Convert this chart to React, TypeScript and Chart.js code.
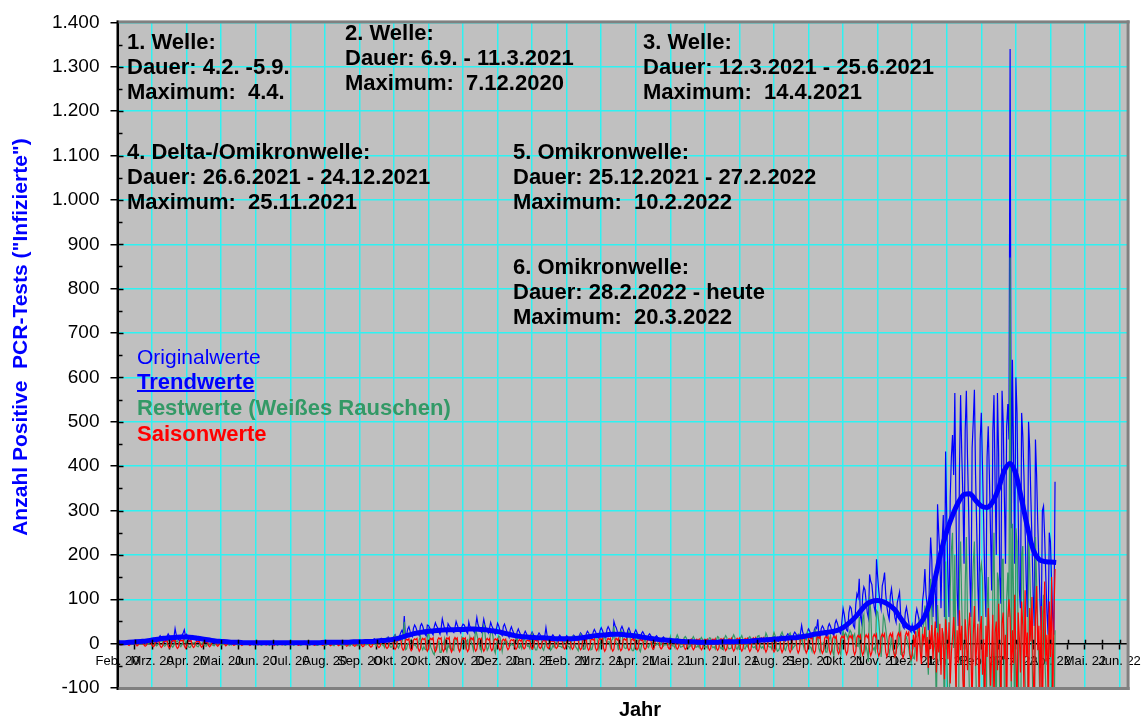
import { useEffect, useRef } from "react";
import { Chart, registerables } from "chart.js";

Chart.register(...registerables);

const FONT = '"Liberation Sans", Arial, Helvetica, sans-serif';
const CYAN = "#2ef2f2";
const PLOT_BG = "#c0c0c0";
const BLUE = "#0000ff";
const GREEN = "#339966";
const RED = "#ff0000";

// x axis: days since 4.2.2020, one tick every 30 days
const TICK_DAYS = 30;
const X_MAX_DAY = 877;
const xTickLabels = [
  "Feb. 20", "Mrz. 20", "Apr. 20", "Mai. 20", "Jun. 20", "Jul. 20", "Aug. 20", "Sep. 20", "Okt. 20", "Okt. 20",
  "Nov. 20", "Dez. 20", "Jan. 21", "Feb. 21", "Mrz. 21", "Apr. 21", "Mai. 21", "Jun. 21", "Jul. 21", "Aug. 21",
  "Sep. 21", "Okt. 21", "Nov. 21", "Dez. 21", "Jan. 22", "Feb. 22", "Mrz. 22", "Apr. 22", "Mai. 22", "Jun. 22",
];
const Y_MIN = -100;
const Y_MAX = 1400;
const Y_STEP = 100;

// daily original values (day 0 = 4.2.2020)
const originalValues = [
  0,1,0,2,1,0,0, 1,3,2,1,0,0,1, 2,4,3,2,1,0,2, 3,5,6,4,2,1,3, 6,8,
  10,12,9,4,2,8,14, 18,13,10,5,3,9,16, 22,17,12,6,4,14,34, 20,15,9,6,12,19,24, 31,17,
  21,14,8,5,12,18,16, 13,9,4,3,10,14,12, 9,7,3,2,8,11,9, 7,5,2,1,6,8,7, 5,4,
  2,1,4,6,5,4,3, 1,1,3,5,4,3,2, 0,1,3,4,3,2,2, 0,1,2,4,3,2,1, 0,1,
  2,3,2,2,1,0,1, 2,4,3,2,1,0,1, 3,2,3,2,1,0,2, 3,4,2,1,1,0,2, 3,2,
  2,1,0,1,3,4,2, 3,1,0,2,3,5,2, 2,1,0,1,4,3,3, 2,1,0,2,4,5,3, 2,1,
  1,2,4,5,3,4,2, 1,2,5,6,4,3,2, 1,3,5,4,6,3,2, 2,3,6,5,4,3,1, 2,4,
  6,7,5,3,2,5,8, 9,6,4,2,4,9,11, 8,6,3,5,10,12,9, 7,4,6,12,15,11,8, 5,9,
  16,20,14,9,7,18,25, 30,22,62,12,20,33,38, 28,20,16,35,42,37,29, 22,18,40,45,39,30,21, 17,42,
  41,36,30,24,20,38,47, 40,35,27,21,35,56,44, 33,30,22,45,40,37,31, 28,25,36,50,42,35,29, 24,38,
  44,42,36,27,23,49,38, 36,31,29,25,40,59,43, 36,31,26,37,55,42,33, 29,24,35,48,40,34,26, 21,33,
  46,40,30,22,18,39,44, 36,28,20,14,31,38,30, 24,17,12,27,33,26,20, 14,10,22,28,23,16,11, 8,20,
  26,21,14,10,8,19,24, 20,15,9,7,17,36,18, 14,9,6,16,20,16,12, 8,6,15,19,15,11,7, 5,13,
  18,14,10,7,6,15,19, 17,13,9,7,18,24,21, 16,11,9,22,28,24,18, 13,11,26,32,27,20,15, 12,30,
  36,30,22,16,13,32,38, 33,25,18,15,50,41,36, 27,20,16,33,39,32,24, 18,14,30,35,28,20,15, 11,26,
  31,25,18,12,9,23,27, 22,16,11,8,19,22,18, 13,9,6,15,18,14,10, 7,5,12,15,12,8,5, 4,10,
  13,10,7,4,3,9,11, 9,6,4,2,7,9,7, 5,3,2,6,7,5,4, 2,1,5,6,4,3,2, 1,4,
  5,4,3,1,1,4,5, 4,3,2,1,4,6,4, 3,2,1,5,6,5,3, 2,1,5,7,5,4,2, 1,6,
  7,6,4,2,2,7,9, 8,6,3,2,8,10,9, 7,4,3,10,12,10,8, 5,3,11,14,12,9,6, 4,13,
  16,14,10,6,5,15,19, 17,13,8,6,18,22,19, 15,9,7,21,26,22,17, 11,9,24,41,25,19,13, 10,27,
  33,28,20,13,11,31,37, 34,55,19,14,34,40,35, 27,19,15,38,45,39,31, 22,18,45,53,46,36,26, 22,52,
  79,66,45,31,28,70,84, 80,60,40,35,88,112,104, 146,62,48,110,128,121,95, 70,58,156,140,133,104,82, 70,190,
  150,118,92,78,130,142,160, 112,84,66,55,108,124,98, 78,58,48,92,104,116,64, 50,38,34,70,82,66,48, 30,26,
  42,28,24,62,78,66,52, 44,40,96,120,168,110,84, 30,150,239,190,60,140,120, 35,314,250,200,80,230,290, 60,433,
  280,150,60,330,420,470,380, 565,300,120,40,390,560,430, 330,180,480,570,420,300,150, 60,440,500,572,380,260,130, 50,460,
  520,400,280,140,60,420,490, 380,250,120,480,560,350,200, 565,430,150,90,570,500,330, 180,490,540,460,1340,260,640, 420,180,
  600,520,300,120,80,520,470, 380,260,140,60,500,440,330, 230,110,40,460,380,270,180, 90,30,300,310,240,150,70, 20,250,
  230,140,60,20,365,
];

// trend values, one every TREND_STEP days
const TREND_STEP = 5;
const trendValues = [
  2,2,3,4,5,6,8,10,12,13,
  14,15,15,14,12,10,8,6,5,4,
  3,3,2,2,2,2,2,2,2,2,
  2,2,2,2,2,2,3,3,3,3,
  3,4,4,5,5,6,7,8,10,13,
  17,21,24,26,28,29,30,31,31,32,
  32,33,33,32,31,29,27,24,21,18,
  16,15,14,13,13,12,11,11,11,11,
  12,14,16,18,19,20,21,21,20,19,
  17,15,13,11,9,8,7,6,5,4,
  4,3,3,3,3,4,4,4,5,5,
  6,7,8,9,10,11,12,13,14,16,
  18,21,23,25,27,30,36,46,58,73,
  88,95,97,94,87,76,57,40,34,40,
  57,90,148,207,253,289,318,336,338,323,
  310,307,320,350,390,406,382,325,263,212,
  190,185,184,183,
];

// daily residuals (white noise)
const restValues = [
  0,-1,1,2,0,-1,-2, 0,1,3,1,-1,-2,0, 1,2,3,0,-2,-1,0, 1,2,4,2,-1,-2,0, 2,3,
  5,7,3,-3,-5,-2,1, 5,8,4,-4,-6,-3,2, 7,9,4,-5,-8,-4,12, 4,6,2,-4,-7,-2,5, 12,2,
  4,-3,-8,-9,-4,2,1, 3,-2,-6,-7,-3,1,0, 2,-2,-5,-6,-2,1,0, 1,-1,-4,-5,-1,1,0, 1,-1,
  -3,-3,-2,4,5,3,-1, -4,-2,-3,3,4,2,-1, -3,-2,-3,2,4,2,-1, -2,-2,-2,2,3,1,-1, -3,-2,
  -2,3,4,2,-2,-4,-2, -2,4,4,2,-2,-4,-2, -1,3,5,2,-2,-4,-1, -1,4,3,1,-3,-4,-1, -1,3,
  2,1,-2,-4,-2,-2,2, 4,2,-4,-3,-1,1,2, 2,1,-3,-4,-1,-2,2, 3,2,-4,-4,0,1,2, 3,1,
  -4,-4,-2,-1,3,5,2, -4,-5,-1,0,4,5,2, -4,-4,-1,-3,6,6,3, -5,-5,0,-3,5,6,2, -5,-4,
  -3,-3,5,6,3,-3,-3, 1,-3,4,5,4,1,-1, -2,-5,3,6,8,-1,-3, -4,-9,5,13,13,-2,-8, -8,-4,
  14,19,10,-6,-10,-3,-1, 4,16,49,-14,-12,0,0, 5,9,4,-3,-3,-5,-10, -2,9,17,-8,-14,-7,-13, -14,15,
  31,4,-8,-14,-21,-25,-8, -11,0,5,-20,-20,-3,-2, 11,-9,-18,-3,-9,-1,-13, -12,-15,9,11,4,-11,-17, -9,14,
  9,5,-9,6,9,-15,15, 5,-3,-15,4,36,20,9, 0,-10,-17,25,41,26,-3, -15,-10,2,30,30,16,-13, -21,0,
  7,17,15,1,-17,-1,5, 2,6,-1,-6,-5,0,-3, -4,4,6,17,-7,-10,-2, -11,1,13,6,2,-6,-5, -11,12,
  23,14,-7,-14,-14,-3,15, 17,9,-11,-15,-6,11,8, 11,4,-15,-12,-4,-8,3, 4,1,-6,-6,-7,-9,1, 4,10,
  1,-6,-7,-12,3,17,17, -2,-8,-12,-16,13,21,14, -6,-12,-12,2,17,21,14, -14,-13,0,2,19,15,2, -13,-1,
  8,-1,13,14,6,3,4, 4,-9,7,11,39,9,2, -2,-11,4,28,28,3,-9, -11,-10,19,28,16,-10,-16, -16,-5,
  22,21,10,-13,-18,-4,1, 3,10,3,-6,-9,-1,-2, 3,1,-3,-4,-2,1,-4, -4,3,-3,-6,-2,-3,-3, -3,3,
  15,-3,-5,-5,-10,13,20, 14,-3,-8,-7,-6,13,16, 12,-7,-10,-4,-6,11,16, 10,-8,-8,-4,-9,10,14, 9,-6,
  -8,-6,-10,7,13,12,-6, -9,-7,-12,8,16,14,-7, -11,-9,-13,12,18,14,-8, -12,-11,-10,14,20,14,-9, -13,-5,
  -10,13,18,10,-11,-12,-4, -7,13,16,11,-6,-9,-7, -10,12,17,18,-5,-10,-7, -11,11,24,18,-6,-8,-7, -12,15,
  25,18,-10,-17,-15,-9,21, 26,18,-11,-15,-6,-2,20, 24,13,-12,-8,-5,-2,17, 21,11,2,15,1,-10,12, 9,25,
  4,-6,-9,-17,8,25,32, 5,21,-11,-19,1,-1,2, -7,-19,-19,-2,10,18,1, -18,-27,11,15,-1,-10,-18, -25,13,
  30,12,24,20,11,21,30, 25,5,17,22,-6,-4,-6, 60,-30,9,55,65,-17,-5, -19,-41,106,72,-4,-14,-9, -18,75,
  71,49,16,-30,8,63,54, 33,13,-4,-24,-6,18,-13, -19,-29,-16,-9,-3,46,-24, -26,-20,-18,10,15,2,-10, -30,-43,
  -17,-32,-34,12,17,40,52, -5,-20,33,45,86,36,-17, -70,43,146,70,-6,4,-18, -147,87,29,-32,-19,4,17, -196,185,
  -20,-150,-240,120,210,250,-10, 200,-60,-150,-290,150,230,90, -20,-180,130,240,60,-30,-150, -300,100,180,230,-30,-150,-250, -330,160,
  180,150,-80,-250,-300,80,150, -40,-140,-260,140,250,-20,-180, 160,140,-150,-230,190,190,-110, -260,100,160,60,870,-130,270, 110,-250,
  260,230,20,-300,-350,200,220, 40,-80,-210,-300,260,170,80, -10,-170,-260,240,140,40,-50, -140,-250,60,110,-10,-100,-190, -300,70,
  40,-120,-200,-250,30,
];

// daily seasonal values
const seasonValues = [
  1,2,-1,-3,-2,1,2, 1,3,-2,-4,-2,2,3, 2,3,-2,-5,-3,2,3, 2,4,-3,-6,-4,2,4, 3,5,
  -4,-7,-5,3,5,4,6, -5,-9,-6,4,6,5,8, -6,-10,-7,5,7,6,9, -6,-11,-8,5,8,6,8, -5,-10,
  -7,4,7,5,7,-5,-9, -6,3,6,4,6,-4,-8, -5,3,5,3,5,-4,-7, -4,2,4,3,4,-3,-6, -3,2,
  3,2,3,-2,-5,-3,2, 3,2,3,-2,-4,-3,1, 2,2,3,-2,-4,-2,2, 2,1,2,-2,-4,-2,1, 2,2,
  2,-2,-3,-2,1,2,1, 2,-1,-3,-2,1,2,2, 2,-2,-4,-2,1,2,1, 2,-2,-3,-2,2,2,1, 2,-2,
  -3,-2,1,2,2,3,-2, -4,-3,2,2,1,2,-2, -3,-2,1,2,2,3,-2, -4,-3,2,3,2,2,-2, -4,-3,
  2,3,2,3,-3,-5,-3, 2,3,2,3,-3,-5,-3, 2,3,2,4,-3,-6,-4, 3,4,2,4,-4,-6,-4, 3,4,
  3,4,-4,-7,-5,3,5, 4,5,-5,-8,-6,3,6, 4,6,-6,-9,-6,4,6, 5,7,-7,-11,-8,5,7, 5,8,
  -8,-13,-9,6,9,7,10, -9,-15,-11,7,10,8,11, -10,-16,-12,8,11,9,12, -10,-17,-12,8,12,9,12, -10,-17,
  -12,8,12,9,13,-11,-18, -13,9,13,10,13,-11,-18, -13,9,13,10,14,-11,-19, -13,9,14,10,13,-11,-18, -12,9,
  13,10,13,-11,-18,-13,9, 13,9,13,-11,-17,-12,9, 12,9,12,-10,-17,-12,8, 12,8,11,-10,-16,-11,8, 11,8,
  11,-9,-15,-11,7,10,7, 10,-8,-14,-10,7,9,7, 9,-8,-13,-9,6,9,6, 9,-7,-12,-9,6,8,6, 8,-7,
  -12,-8,6,8,6,8,-7, -11,-8,5,8,6,8,-7, -11,-8,5,7,5,8,-7, -11,-8,6,8,6,8,-7, -12,-9,
  6,9,6,9,-8,-13,-9, 7,10,7,10,-9,-14,-10, 7,10,7,10,-9,-15,-11, 8,11,8,11,-10,-16,-11, 8,12,
  8,12,-10,-17,-12,8,12, 9,12,-11,-17,-12,9,12, 8,12,-10,-16,-12,8,11, 8,11,-10,-15,-11,8,11, 7,10,
  -9,-14,-10,7,10,7,10, -9,-13,-10,7,9,7,9, -8,-13,-9,6,9,6,9, -8,-12,-9,6,8,6,8, -8,-12,
  -9,6,8,6,9,-8,-13, -9,6,9,6,9,-8,-13, -10,7,9,7,10,-9,-14, -10,7,10,7,10,-9,-14, -10,7,
  10,7,10,-9,-15,-11,8, 10,7,11,-10,-15,-11,8, 11,8,11,-10,-16,-12,8, 11,8,12,-11,-17,-12,9, 12,8,
  12,-11,-17,-12,9,12,9, 12,-11,-18,-13,9,13,9, 13,-12,-18,-13,9,13,9, 13,-12,-19,-13,10,13,10, 13,-12,
  -19,-14,10,14,10,14,-12, -20,-14,10,14,10,14,-13, -20,-14,10,14,10,14,-13, -21,-15,11,15,11,15,-13, -21,-15,
  11,15,11,15,-14,-22,-16, 11,16,12,16,-14,-22,-16, 12,16,12,16,-14,-23,-16, 12,17,12,17,-15,-23,-17, 12,17,
  13,18,-15,-24,-17,13,18, 13,18,-16,-25,-18,14,19, 14,19,-16,-26,-18,14,20, 14,20,-17,-27,-19,15,21, 15,21,
  -18,-28,-20,15,22,16,22, -19,-29,-21,16,23,16,23, -20,-30,-22,17,24,17,24, -21,-32,-23,18,26,19,26, -23,-35,
  -25,20,-8,28,-40,12,35, -18,-46,22,5,38,-30,15, -55,30,-12,42,-35,8,50, -65,25,-20,45,-70,35,10, -80,55,
  22,-35,48,-90,-20,15,60, 5,-110,30,-45,75,-15,40, -80,-130,55,10,-60,35,70, -25,-140,20,85,-50,-5,45, -120,30,
  62,-70,10,-150,40,-30,80, 15,-95,-20,65,-140,25,50, -60,90,-10,-125,45,70, -35,20,-160,55,100,60,-85,30, -45,110,
  -20,-150,70,15,-65,95,40, -110,120,-30,25,-170,80,5, 105,-60,-140,60,130,-15,40, -100,85,-190,35,140,-40,20, -120,95,
  -30,150,-160,60,168,
];

const waveTexts = [
  ["1. Welle:", "Dauer: 4.2. -5.9.", "Maximum:  4.4."],
  ["2. Welle:", "Dauer: 6.9. - 11.3.2021", "Maximum:  7.12.2020"],
  ["3. Welle:", "Dauer: 12.3.2021 - 25.6.2021", "Maximum:  14.4.2021"],
  ["4. Delta-/Omikronwelle:", "Dauer: 26.6.2021 - 24.12.2021", "Maximum:  25.11.2021"],
  ["5. Omikronwelle:", "Dauer: 25.12.2021 - 27.2.2022", "Maximum:  10.2.2022"],
  ["6. Omikronwelle:", "Dauer: 28.2.2022 - heute", "Maximum:  20.3.2022"],
];
const waveTextPos = [
  [127, 43], [345, 34], [643, 43], [127, 153], [513, 153], [513, 268],
];
const legendItems = ["Originalwerte", "Trendwerte", "Restwerte (Weißes Rauschen)", "Saisonwerte"];
const yTitle = 'Anzahl Positive  PCR-Tests ("Infizierte")';
const xTitle = "Jahr";

function fmtThousands(v: number): string {
  const n = Math.round(v);
  const a = Math.abs(n);
  if (a >= 1000) {
    const s = String(Math.floor(a / 1000)) + "." + String(a % 1000).padStart(3, "0");
    return n < 0 ? "-" + s : s;
  }
  return String(n);
}

const backgroundPlugin = {
  id: "plotBackground",
  beforeDraw(chart: any) {
    const { ctx, chartArea: ca } = chart;
    ctx.save();
    ctx.fillStyle = PLOT_BG;
    ctx.fillRect(ca.left, ca.top, ca.right - ca.left, ca.bottom - ca.top);
    ctx.restore();
  },
};

const overlayPlugin = {
  id: "overlay",
  afterDraw(chart: any) {
    const { ctx, chartArea: ca, scales } = chart;
    const ys = scales.y;
    const xs = scales.x;
    ctx.save();

    // extra tick marks (inner halves / minor ticks)
    ctx.strokeStyle = "#000";
    ctx.lineWidth = 1.5;
    ctx.beginPath();
    for (let v = Y_MIN + 50; v < Y_MAX; v += 50) {
      const py = Math.round(ys.getPixelForValue(v)) + 0.5;
      const len = v % 100 === 0 ? 6 : 5;
      ctx.moveTo(ca.left, py);
      ctx.lineTo(ca.left + len, py);
    }
    const y0 = ys.getPixelForValue(0);
    for (let d = 0; d <= 870; d += 15) {
      const px = Math.round(xs.getPixelForValue(d)) + 0.5;
      ctx.moveTo(px, y0 - 4);
      ctx.lineTo(px, y0);
    }
    ctx.stroke();

    // frame
    ctx.fillStyle = "#808080";
    ctx.fillRect(ca.left, ca.top - 2, ca.right - ca.left + 2, 3);
    ctx.fillRect(ca.right - 1, ca.top - 2, 3, ca.bottom - ca.top + 4);
    ctx.fillRect(ca.left, ca.bottom - 1, ca.right - ca.left + 2, 3);
    ctx.fillStyle = "#000";
    ctx.fillRect(ca.left - 1, ca.top - 2, 2, ca.bottom - ca.top + 4);

    // wave annotations
    ctx.textBaseline = "middle";
    ctx.textAlign = "left";
    ctx.fillStyle = "#000";
    ctx.font = `bold 22px ${FONT}`;
    waveTexts.forEach((lines, i) => {
      const [tx, ty] = waveTextPos[i];
      lines.forEach((line, j) => ctx.fillText(line, tx, ty + j * 25));
    });

    // legend
    const lx = 137;
    ctx.font = `21px ${FONT}`;
    ctx.fillStyle = BLUE;
    ctx.fillText(legendItems[0], lx, 358);
    ctx.font = `bold 22px ${FONT}`;
    ctx.fillText(legendItems[1], lx, 383);
    const w = ctx.measureText(legendItems[1]).width;
    ctx.fillRect(lx, 390, w, 2);
    ctx.fillStyle = GREEN;
    ctx.fillText(legendItems[2], lx, 408.5);
    ctx.fillStyle = RED;
    ctx.fillText(legendItems[3], lx, 434.5);

    // y title
    ctx.save();
    ctx.translate(21, 337);
    ctx.rotate(-Math.PI / 2);
    ctx.textAlign = "center";
    ctx.font = `bold 21px ${FONT}`;
    ctx.fillStyle = BLUE;
    ctx.fillText(yTitle, 0, 0);
    ctx.restore();

    // x title
    ctx.textAlign = "center";
    ctx.font = `bold 20px ${FONT}`;
    ctx.fillStyle = "#000";
    ctx.fillText(xTitle, 640, 710);

    ctx.restore();
  },
};

export default function App() {
  const canvasRef = useRef<HTMLCanvasElement | null>(null);

  useEffect(() => {
    if (!canvasRef.current) return;
    Chart.defaults.font.family = FONT;

    const toPoints = (arr: number[]) => arr.map((v, i) => ({ x: i, y: v }));
    const trendPoints = trendValues.map((v, i) => ({ x: i * TREND_STEP, y: v }));

    const chart = new Chart(canvasRef.current, {
      type: "line",
      data: {
        datasets: [
          {
            label: "Trendwerte",
            data: trendPoints,
            borderColor: BLUE,
            borderWidth: 5,
            pointRadius: 0,
            cubicInterpolationMode: "monotone",
            order: 0,
          },
          {
            label: "Saisonwerte",
            data: toPoints(seasonValues),
            borderColor: RED,
            borderWidth: 1.2,
            pointRadius: 0,
            order: 1,
          },
          {
            label: "Restwerte",
            data: toPoints(restValues),
            borderColor: GREEN,
            borderWidth: 1.2,
            pointRadius: 0,
            order: 2,
          },
          {
            label: "Originalwerte",
            data: toPoints(originalValues),
            borderColor: BLUE,
            borderWidth: 1.2,
            pointRadius: 0,
            order: 3,
          },
        ] as any,
      },
      options: {
        animation: false,
        responsive: false,
        events: [],
        layout: { padding: { left: 0, top: 20, right: 16, bottom: 34 } },
        plugins: { legend: { display: false }, tooltip: { enabled: false } },
        scales: {
          x: {
            type: "linear",
            min: 0,
            max: X_MAX_DAY,
            position: { y: 0 } as any,
            grid: {
              color: (c: any) =>
                c.tick && Math.round(c.tick.value) % TICK_DAYS === 0 ? CYAN : "rgba(0,0,0,0)",
              lineWidth: 1.5,
              drawTicks: false,
            },
            border: { display: false },
            ticks: { display: false, stepSize: 15, includeBounds: false, autoSkip: false },
          },
          xLabels: {
            type: "linear",
            axis: "x",
            display: true,
            min: 0,
            max: X_MAX_DAY,
            position: { y: 0 } as any,
            z: 1,
            grid: {
              drawOnChartArea: false,
              drawTicks: true,
              tickLength: 5,
              tickColor: "#000",
              tickWidth: 1.5,
            },
            border: { display: true, color: "#000", width: 1.5 },
            ticks: {
              stepSize: 15,
              includeBounds: false,
              autoSkip: false,
              maxRotation: 0,
              minRotation: 0,
              padding: 5,
              color: "#000",
              font: { size: 13, family: FONT },
              callback: (v: any) => {
                const d = Math.round(Number(v));
                return d % TICK_DAYS === 0 ? xTickLabels[d / TICK_DAYS] ?? "" : "";
              },
            },
          } as any,
          y: {
            type: "linear",
            min: Y_MIN,
            max: Y_MAX,
            position: "left",
            afterFit: (s: any) => {
              s.width = 117.5;
            },
            grid: {
              color: (c: any) => (c.tick && c.tick.value === 0 ? "rgba(0,0,0,0)" : CYAN),
              lineWidth: 1.5,
              tickColor: "#000",
              tickLength: 7,
              tickWidth: 1.5,
            },
            border: { color: "#000", width: 2 },
            ticks: {
              stepSize: Y_STEP,
              padding: 11,
              color: "#000",
              font: { size: 19, family: FONT },
              callback: (v: any) => fmtThousands(Number(v)),
            },
          },
        },
      } as any,
      plugins: [backgroundPlugin, overlayPlugin],
    });

    return () => chart.destroy();
  }, []);

  return (
    <div style={{ position: "absolute", left: 0, top: 0, width: 1146, height: 722, background: "#fff" }}>
      <canvas ref={canvasRef} width={1146} height={722} style={{ display: "block", width: 1146, height: 722 }} />
    </div>
  );
}
